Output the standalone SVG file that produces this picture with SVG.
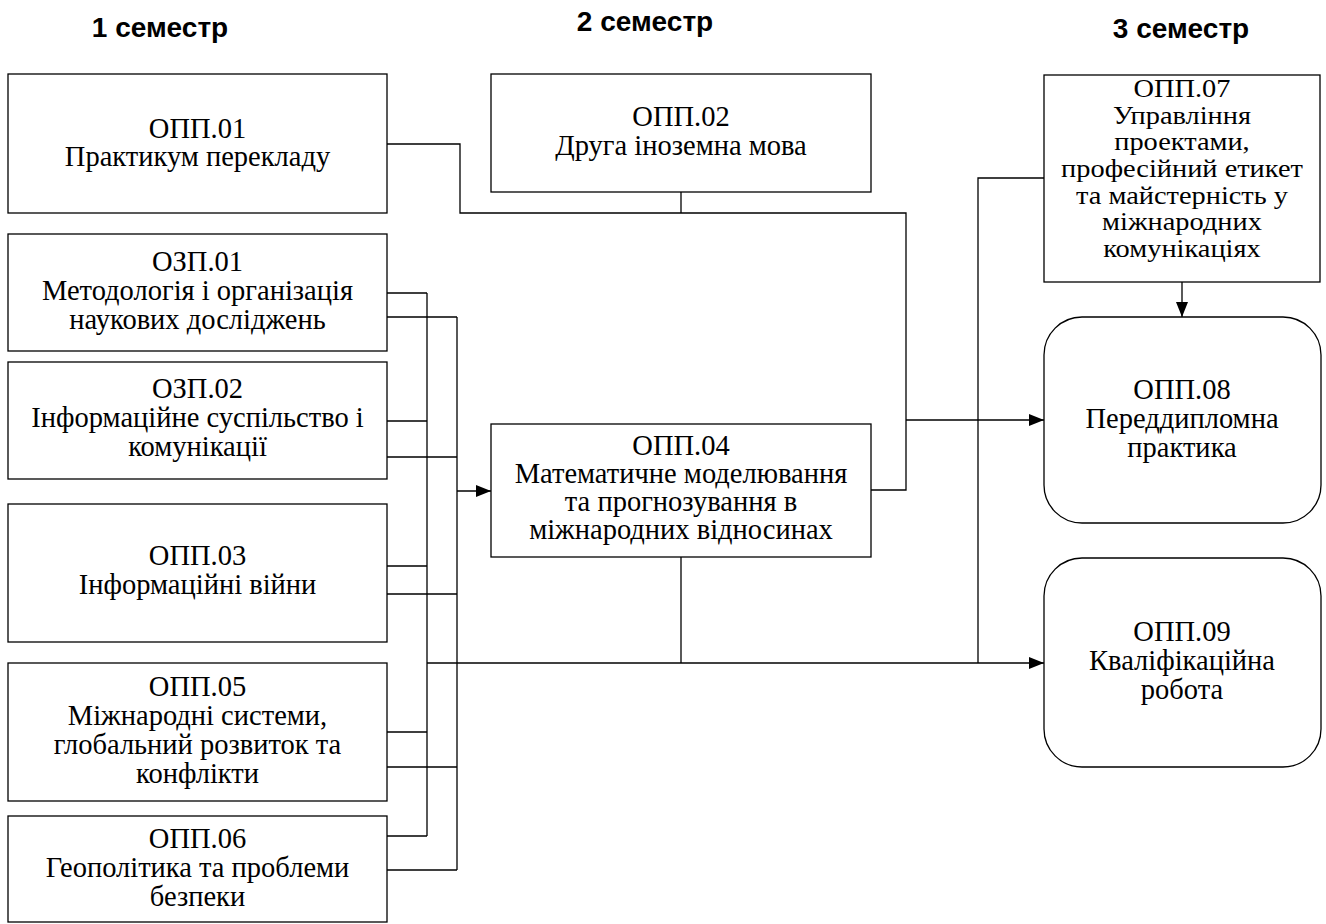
<svg xmlns="http://www.w3.org/2000/svg" width="1326" height="924" viewBox="0 0 1326 924">
<style>
.box{fill:#fff;stroke:#000;stroke-width:1.3}
.t{font-family:"Liberation Serif","Times New Roman",serif;font-size:28.5px;fill:#000;text-anchor:middle}
.t7{font-family:"Liberation Serif","Times New Roman",serif;font-size:25.8px;fill:#000;text-anchor:middle}
.h{font-family:"Liberation Sans",Arial,sans-serif;font-size:28px;font-weight:bold;fill:#000;text-anchor:middle}
.c{fill:none;stroke:#000;stroke-width:1.3}
</style>
<defs>
<marker id="arr" markerWidth="16" markerHeight="12" refX="15" refY="6" orient="auto" markerUnits="userSpaceOnUse">
<path d="M0,0 L15,6 L0,12 z" fill="#000"/>
</marker>
</defs>
<rect width="1326" height="924" fill="#fff"/>
<g id="headers">
<text class="h" x="160" y="37">1 семестр</text>
<text class="h" x="645" y="31">2 семестр</text>
<text class="h" x="1181" y="38">3 семестр</text>
</g>
<g id="connectors">
<path class="c" d="M387,144 H460 V213 H906 V490 H871"/>
<path class="c" d="M906,420 H1044" marker-end="url(#arr)"/>
<path class="c" d="M681,192 V213"/>
<path class="c" d="M1044,178 H978 V663"/>
<path class="c" d="M1182,282 V317" marker-end="url(#arr)"/>
<path class="c" d="M387,293 H427 M387,421 H427 M387,566 H427 M387,732 H427 M387,836 H427 M427,293 V836"/>
<path class="c" d="M427,663 H1044" marker-end="url(#arr)"/>
<path class="c" d="M387,317 H457 M387,457 H457 M387,594 H457 M387,767 H457 M387,870 H457 M457,317 V870"/>
<path class="c" d="M457,491 H491" marker-end="url(#arr)"/>
<path class="c" d="M681,557 V663"/>
</g>
<g id="opp01">
<rect class="box" x="8" y="74" width="379" height="139"/>
<text class="t" x="197.5" y="138">ОПП.01</text>
<text class="t" x="197.5" y="166">Практикум перекладу</text>
</g>
<g id="ozp01">
<rect class="box" x="8" y="234" width="379" height="117"/>
<text class="t" x="197.5" y="271">ОЗП.01</text>
<text class="t" x="197.5" y="300">Методологія і організація</text>
<text class="t" x="197.5" y="329">наукових досліджень</text>
</g>
<g id="ozp02">
<rect class="box" x="8" y="362" width="379" height="117"/>
<text class="t" x="197.5" y="398">ОЗП.02</text>
<text class="t" x="197.5" y="427">Інформаційне суспільство і</text>
<text class="t" x="197.5" y="456">комунікації</text>
</g>
<g id="opp03">
<rect class="box" x="8" y="504" width="379" height="138"/>
<text class="t" x="197.5" y="565">ОПП.03</text>
<text class="t" x="197.5" y="594">Інформаційні війни</text>
</g>
<g id="opp05">
<rect class="box" x="8" y="663" width="379" height="138"/>
<text class="t" x="197.5" y="696">ОПП.05</text>
<text class="t" x="197.5" y="725">Міжнародні системи,</text>
<text class="t" x="197.5" y="754">глобальний розвиток та</text>
<text class="t" x="197.5" y="783">конфлікти</text>
</g>
<g id="opp06">
<rect class="box" x="8" y="816" width="379" height="106"/>
<text class="t" x="197.5" y="848">ОПП.06</text>
<text class="t" x="197.5" y="877">Геополітика та проблеми</text>
<text class="t" x="197.5" y="906">безпеки</text>
</g>
<g id="opp02">
<rect class="box" x="491" y="74" width="380" height="118"/>
<text class="t" x="681" y="126">ОПП.02</text>
<text class="t" x="681" y="155">Друга іноземна мова</text>
</g>
<g id="opp04">
<rect class="box" x="491" y="424" width="380" height="133"/>
<text class="t" x="681" y="455">ОПП.04</text>
<text class="t" x="681" y="483">Математичне моделювання</text>
<text class="t" x="681" y="511">та прогнозування в</text>
<text class="t" x="681" y="539">міжнародних відносинах</text>
</g>
<g id="opp07">
<rect class="box" x="1044" y="75" width="276" height="207"/>
<g transform="translate(1182,0) scale(1.1,1) translate(-1182,0)">
<text class="t7" x="1182" y="97">ОПП.07</text>
<text class="t7" x="1182" y="123.7">Управління</text>
<text class="t7" x="1182" y="150.3">проектами,</text>
<text class="t7" x="1182" y="177">професійний етикет</text>
<text class="t7" x="1182" y="203.7">та майстерність у</text>
<text class="t7" x="1182" y="230.3">міжнародних</text>
<text class="t7" x="1182" y="257">комунікаціях</text>
</g>
</g>
<g id="opp08">
<rect class="box" x="1044" y="317" width="277" height="206" rx="38" ry="38"/>
<text class="t" x="1182" y="399">ОПП.08</text>
<text class="t" x="1182" y="428">Переддипломна</text>
<text class="t" x="1182" y="457">практика</text>
</g>
<g id="opp09">
<rect class="box" x="1044" y="558" width="277" height="209" rx="38" ry="38"/>
<text class="t" x="1182" y="641">ОПП.09</text>
<text class="t" x="1182" y="670">Кваліфікаційна</text>
<text class="t" x="1182" y="699">робота</text>
</g>
</svg>
